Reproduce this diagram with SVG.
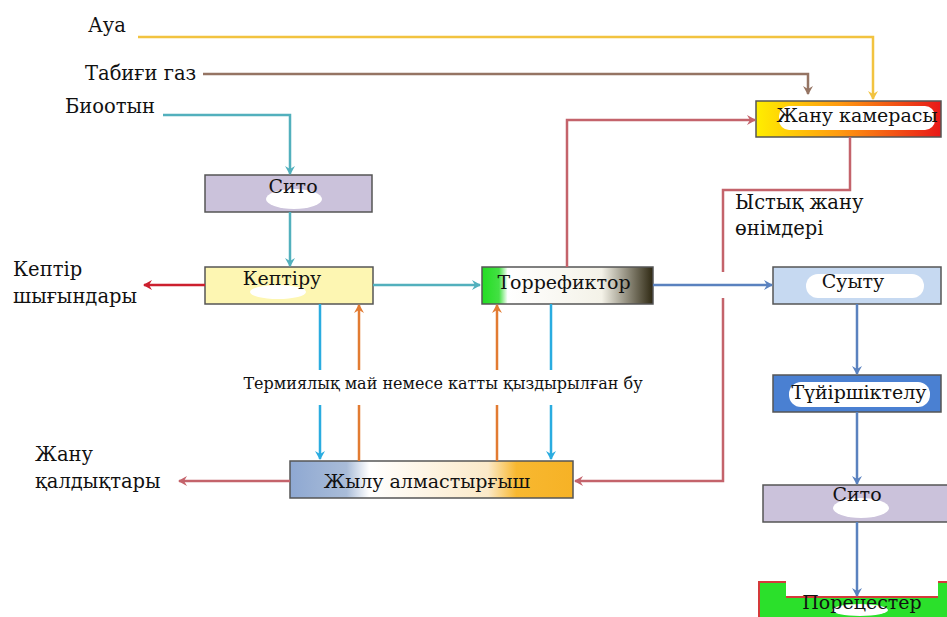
<svg xmlns="http://www.w3.org/2000/svg" width="947" height="617" viewBox="0 0 947 617">
<defs>
<style>
text{font-family:"DejaVu Serif","Liberation Serif",serif;fill:#111;}
.lbl{font-size:19.5px;}
.box{stroke:#555;stroke-width:1.5;}
.t{font-size:19px;text-anchor:middle;}
.c{fill:none;stroke-width:2.5;}
.blob{fill:#fff;}
</style>
<linearGradient id="gFire" x1="0" x2="1" y1="0" y2="0"><stop offset="0" stop-color="#ffee00"/><stop offset="0.45" stop-color="#ff9a10"/><stop offset="1" stop-color="#e81818"/></linearGradient>
<linearGradient id="gTor" x1="0" x2="1" y1="0" y2="0"><stop offset="0" stop-color="#22dd22"/><stop offset="0.1" stop-color="#44e044"/><stop offset="0.15" stop-color="#ffffff"/><stop offset="0.7" stop-color="#f4f2e8"/><stop offset="1" stop-color="#2e2812"/></linearGradient>
<linearGradient id="gHx" x1="0" x2="1" y1="0" y2="0"><stop offset="0" stop-color="#8ea8d2"/><stop offset="0.2" stop-color="#a9bcd8"/><stop offset="0.28" stop-color="#ffffff"/><stop offset="0.7" stop-color="#fbe9c8"/><stop offset="0.8" stop-color="#f8b830"/><stop offset="1" stop-color="#f6b226"/></linearGradient>
<marker id="aY" markerWidth="10" markerHeight="10" refX="8" refY="5" orient="auto" markerUnits="userSpaceOnUse"><path d="M0,0 L9,5 L0,10 L3,5 z" fill="#f2c340"/></marker>
<marker id="aBr" markerWidth="10" markerHeight="10" refX="8" refY="5" orient="auto" markerUnits="userSpaceOnUse"><path d="M0,0 L9,5 L0,10 L3,5 z" fill="#957463"/></marker>
<marker id="aT" markerWidth="10" markerHeight="10" refX="8" refY="5" orient="auto" markerUnits="userSpaceOnUse"><path d="M0,0 L9,5 L0,10 L3,5 z" fill="#52b0bd"/></marker>
<marker id="aR" markerWidth="10" markerHeight="10" refX="8" refY="5" orient="auto" markerUnits="userSpaceOnUse"><path d="M0,0 L9,5 L0,10 L3,5 z" fill="#cc1f2e"/></marker>
<marker id="aP" markerWidth="10" markerHeight="10" refX="8" refY="5" orient="auto" markerUnits="userSpaceOnUse"><path d="M0,0 L9,5 L0,10 L3,5 z" fill="#c4636b"/></marker>
<marker id="aC" markerWidth="10" markerHeight="10" refX="8" refY="5" orient="auto" markerUnits="userSpaceOnUse"><path d="M0,0 L9,5 L0,10 L3,5 z" fill="#2aace0"/></marker>
<marker id="aO" markerWidth="10" markerHeight="10" refX="8" refY="5" orient="auto" markerUnits="userSpaceOnUse"><path d="M0,0 L9,5 L0,10 L3,5 z" fill="#e27b32"/></marker>
<marker id="aS" markerWidth="10" markerHeight="10" refX="8" refY="5" orient="auto" markerUnits="userSpaceOnUse"><path d="M0,0 L9,5 L0,10 L3,5 z" fill="#5a82bf"/></marker>
</defs>
<rect width="947" height="617" fill="#fff"/>

<g id="labels">
<text class="lbl" x="88" y="32">Ауа</text>
<text class="lbl" x="85" y="80">Табиғи газ</text>
<text class="lbl" x="65" y="113">Биоотын</text>
<text class="lbl" x="13" y="276">Кептір</text>
<text class="lbl" x="13" y="303">шығындары</text>
<text class="lbl" x="35" y="461">Жану</text>
<text class="lbl" x="35" y="488">қалдықтары</text>
<text class="lbl" x="735" y="209">Ыстық жану</text>
<text class="lbl" x="735" y="235">өнімдері</text>
<text x="443" y="389" style="font-size:16px;text-anchor:middle">Термиялық май немесе катты қыздырылған бу</text>
</g>

<g id="zhanu-kamerasy">
<rect class="box" x="756" y="101" width="185" height="36" fill="url(#gFire)"/>
<rect class="blob" x="779" y="106" width="156" height="24" rx="10"/>
<text class="t" x="857" y="122">Жану камерасы</text>
</g>

<g id="sito1">
<rect class="box" x="205" y="175" width="167" height="37" fill="#cbc2db"/>
<ellipse class="blob" cx="294" cy="199" rx="28" ry="10"/>
<text class="t" x="293" y="193">Сито</text>
</g>

<g id="keptiru">
<rect class="box" x="205" y="267" width="168" height="37" fill="#fdf6b2"/>
<ellipse class="blob" cx="278" cy="292" rx="28" ry="7"/>
<text class="t" x="282" y="285">Кептіру</text>
</g>

<g id="torrefiktor">
<rect class="box" x="482" y="267" width="171" height="37" fill="url(#gTor)"/>
<text class="t" x="564" y="289">Торрефиктор</text>
</g>

<g id="suytu">
<rect class="box" x="773" y="267" width="168" height="37" fill="#c6d9f1"/>
<rect class="blob" x="806" y="274" width="118" height="24" rx="12"/>
<text class="t" x="853" y="288">Суыту</text>
</g>

<g id="zhylu-almastyrgysh">
<rect class="box" x="290" y="461" width="283" height="37" fill="url(#gHx)"/>
<text class="t" x="427" y="488">Жылу алмастырғыш</text>
</g>

<g id="tuyirshiktelu">
<rect class="box" x="773" y="375" width="168" height="37" fill="#4a80d2"/>
<rect class="blob" x="789" y="382" width="141" height="25" rx="12"/>
<text class="t" x="859" y="399">Түйіршіктелу</text>
</g>

<g id="sito2">
<rect class="box" x="763" y="485" width="186" height="37" fill="#cbc2db"/>
<ellipse class="blob" cx="861" cy="508" rx="28" ry="10"/>
<text class="t" x="857" y="501">Сито</text>
</g>

<g id="porecester">
<rect x="759" y="582" width="190" height="40" fill="#2be02b" stroke="#d43a3a" stroke-width="2"/>
<rect x="786" y="575" width="152" height="22" fill="#fff"/>
<line x1="786" y1="597" x2="938" y2="597" stroke="#d43a3a" stroke-width="2"/>
<ellipse class="blob" cx="860" cy="610" rx="28" ry="6"/>
<text class="t" x="862" y="609">Порецестер</text>
</g>

<g id="connectors">
<path class="c" stroke="#f2c340" d="M138,37 H873 V99" marker-end="url(#aY)"/>
<path class="c" stroke="#957463" d="M203,74 H808 V94" marker-end="url(#aBr)"/>
<path class="c" stroke="#52b0bd" d="M163,115 H290 V174" marker-end="url(#aT)"/>
<path class="c" stroke="#52b0bd" d="M290,212 V266" marker-end="url(#aT)"/>
<path class="c" stroke="#cc1f2e" d="M205,285 H144" marker-end="url(#aR)"/>
<path class="c" stroke="#52b0bd" d="M373,285 H480" marker-end="url(#aT)"/>
<path class="c" stroke="#5a82bf" d="M653,285 H772" marker-end="url(#aS)"/>
<path class="c" stroke="#c4636b" d="M567,267 V120 H755" marker-end="url(#aP)"/>
<path class="c" stroke="#c4636b" d="M850,137 V190 H723 V272"/>
<path class="c" stroke="#c4636b" d="M723,298 V481 H575" marker-end="url(#aP)"/>
<path class="c" stroke="#c4636b" d="M290,481 H179" marker-end="url(#aP)"/>
<path class="c" stroke="#2aace0" d="M320,304 V370 M320,405 V459" marker-end="url(#aC)"/>
<path class="c" stroke="#e27b32" d="M359,461 V405 M359,370 V305" marker-end="url(#aO)"/>
<path class="c" stroke="#e27b32" d="M497,461 V405 M497,370 V305" marker-end="url(#aO)"/>
<path class="c" stroke="#2aace0" d="M551,304 V370 M551,405 V459" marker-end="url(#aC)"/>
<path class="c" stroke="#5a82bf" d="M857,304 V374" marker-end="url(#aS)"/>
<path class="c" stroke="#5a82bf" d="M857,412 V484" marker-end="url(#aS)"/>
<path class="c" stroke="#5a82bf" d="M857,522 V596" marker-end="url(#aS)"/>
</g>
</svg>
